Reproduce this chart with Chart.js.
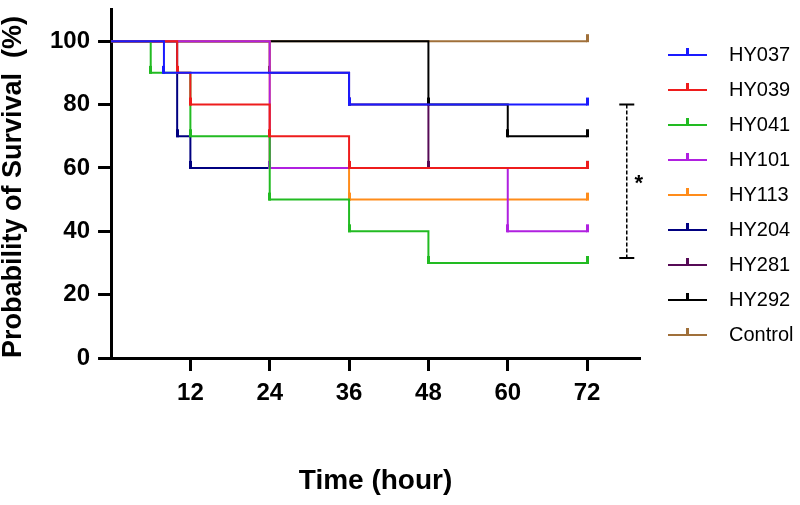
<!DOCTYPE html>
<html>
<head>
<meta charset="utf-8">
<script src="https://cdn.jsdelivr.net/npm/chart.js@4.4.0/dist/chart.umd.min.js"></script>
<style>
  html, body { margin: 0; padding: 0; background: #fff; }
  canvas { display: block; }
</style>
</head>
<body>
<canvas id="survivalChart" width="800" height="505"></canvas>
<script>
const FONT = '"Liberation Sans", Arial, sans-serif';
Chart.defaults.font.family = FONT;
Chart.defaults.color = '#000';

/* DATA */
const seriesNames = ['HY037', 'HY039', 'HY041', 'HY101', 'HY113', 'HY204', 'HY281', 'HY292', 'Control'];

const hy037Time = [0, 8, 36, 72];
const hy037Surv = [100, 90, 80, 80];
const hy039Time = [0, 10, 12, 24, 36, 72];
const hy039Surv = [100, 90, 80, 70, 60, 60];
const hy041Time = [0, 6, 12, 24, 36, 48, 72];
const hy041Surv = [100, 90, 70, 50, 40, 30, 30];
const hy101Time = [0, 24, 60, 72];
const hy101Surv = [100, 60, 40, 40];
const hy113Time = [0, 24, 36, 72];
const hy113Surv = [100, 60, 50, 50];
const hy204Time = [0, 10, 12, 72];
const hy204Surv = [100, 70, 60, 60];
const hy281Time = [0, 24, 36, 48, 72];
const hy281Surv = [100, 90, 80, 60, 60];
const hy292Time = [0, 48, 60, 72];
const hy292Surv = [100, 80, 70, 70];
const controlTime = [0, 72];
const controlSurv = [100, 100];

const xTicks = [12, 24, 36, 48, 60, 72];
const yTicks = [0, 20, 40, 60, 80, 100];

// significance bracket (x position in hours, y range in %)
const sigX = 78;
const sigRange = [31.6, 80];
const sigLabel = '*';

/* STYLES */
const seriesColors = ['#1a1aff', '#ee1c1c', '#22bb22', '#b020e0', '#ff8c1a', '#000080', '#560a56', '#000000', '#a0703a'];

const times = [hy037Time, hy039Time, hy041Time, hy101Time, hy113Time, hy204Time, hy281Time, hy292Time, controlTime];
const survs = [hy037Surv, hy039Surv, hy041Surv, hy101Surv, hy113Surv, hy204Surv, hy281Surv, hy292Surv, controlSurv];

// small tick mark drawn at each step (sits above the point)
function markIcon(color) {
  const c = document.createElement('canvas');
  c.width = 3;
  c.height = 16;
  const g = c.getContext('2d');
  g.fillStyle = color;
  g.fillRect(0, 1, 3, 8);
  return c;
}

// legend symbol: line with a tick in the middle
function legendIcon(color) {
  const c = document.createElement('canvas');
  c.width = 64;
  c.height = 16;
  const g = c.getContext('2d');
  g.fillStyle = color;
  g.fillRect(13, 7, 39, 2);
  g.fillRect(31, 1, 3, 8);
  return c;
}

const legendIcons = seriesColors.map(legendIcon);

const datasets = seriesNames.map((name, i) => ({
  label: name,
  data: times[i].map((t, j) => ({ x: t, y: survs[i][j] })),
  borderColor: seriesColors[i],
  backgroundColor: seriesColors[i],
  borderWidth: 2,
  stepped: 'before',
  fill: false,
  pointStyle: markIcon(seriesColors[i]),
  pointRadius: (c) => (c.dataIndex === 0 ? 0 : 3),
}));

datasets.push({
  label: 'sig',
  data: [{ x: sigX, y: sigRange[1] }, { x: sigX, y: sigRange[0] }],
  borderColor: '#000',
  borderWidth: 1.5,
  borderDash: [4, 2],
  pointStyle: 'line',
  pointRadius: 7.5,
  pointBorderWidth: 2,
  pointBorderColor: '#000',
});

const asteriskPlugin = {
  id: 'asterisk',
  afterDatasetsDraw(chart) {
    const { ctx, scales } = chart;
    const x = scales.x.getPixelForValue(sigX) + 12;
    const y = scales.y.getPixelForValue((sigRange[0] + sigRange[1]) / 2);
    ctx.save();
    ctx.font = 'bold 22px ' + FONT;
    ctx.fillStyle = '#000';
    ctx.textAlign = 'center';
    ctx.textBaseline = 'middle';
    ctx.fillText(sigLabel, x, y + 3);
    ctx.restore();
  },
};

new Chart(document.getElementById('survivalChart'), {
  type: 'line',
  data: { datasets },
  plugins: [asteriskPlugin],
  options: {
    responsive: false,
    animation: false,
    layout: { padding: { top: 7, right: 0, bottom: 0, left: 0 } },
    plugins: {
      tooltip: { enabled: false },
      legend: {
        position: 'right',
        align: 'start',
        maxWidth: 160,
        title: { display: true, text: '', font: { size: 10 }, padding: { top: 0, bottom: 11 } },
        labels: {
          usePointStyle: true,
          pointStyleWidth: 64,
          padding: 15,
          color: '#000',
          font: { size: 20 },
          generateLabels: () =>
            seriesNames.map((name, i) => ({
              text: name,
              pointStyle: legendIcons[i],
              fillStyle: seriesColors[i],
              strokeStyle: seriesColors[i],
              lineWidth: 1,
              hidden: false,
              datasetIndex: i,
              fontColor: '#000',
            })),
        },
      },
    },
    scales: {
      x: {
        type: 'linear',
        min: 0,
        max: 80,
        afterBuildTicks: (s) => { s.ticks = xTicks.map((v) => ({ value: v })); },
        grid: { drawOnChartArea: false, drawTicks: true, tickLength: 13, tickWidth: 3, tickColor: '#000' },
        border: { display: true, color: '#000', width: 3 },
        ticks: { color: '#000', font: { size: 24, weight: 'bold' }, padding: 8, maxRotation: 0, autoSkip: false },
        title: {
          display: true,
          text: 'Time (hour)',
          color: '#000',
          font: { size: 28, weight: 'bold' },
          padding: { top: 48.4, bottom: 7.2 },
        },
      },
      y: {
        min: 0,
        max: 110,
        afterBuildTicks: (s) => { s.ticks = yTicks.map((v) => ({ value: v })); },
        afterFit: (s) => { s.paddingTop = 0; s.paddingBottom = 0; },
        grid: { drawOnChartArea: false, drawTicks: true, tickLength: 13, tickWidth: 3, tickColor: '#000' },
        border: { display: true, color: '#000', width: 3 },
        ticks: { color: '#000', font: { size: 24, weight: 'bold' }, padding: 8 },
        title: {
          display: true,
          align: 'start',
          text: 'Probability of Survival  (%)',
          color: '#000',
          font: { size: 27, weight: 'bold', lineHeight: 1 },
          padding: { top: 0, bottom: 15 },
        },
      },
    },
  },
});
</script>
</body>
</html>
